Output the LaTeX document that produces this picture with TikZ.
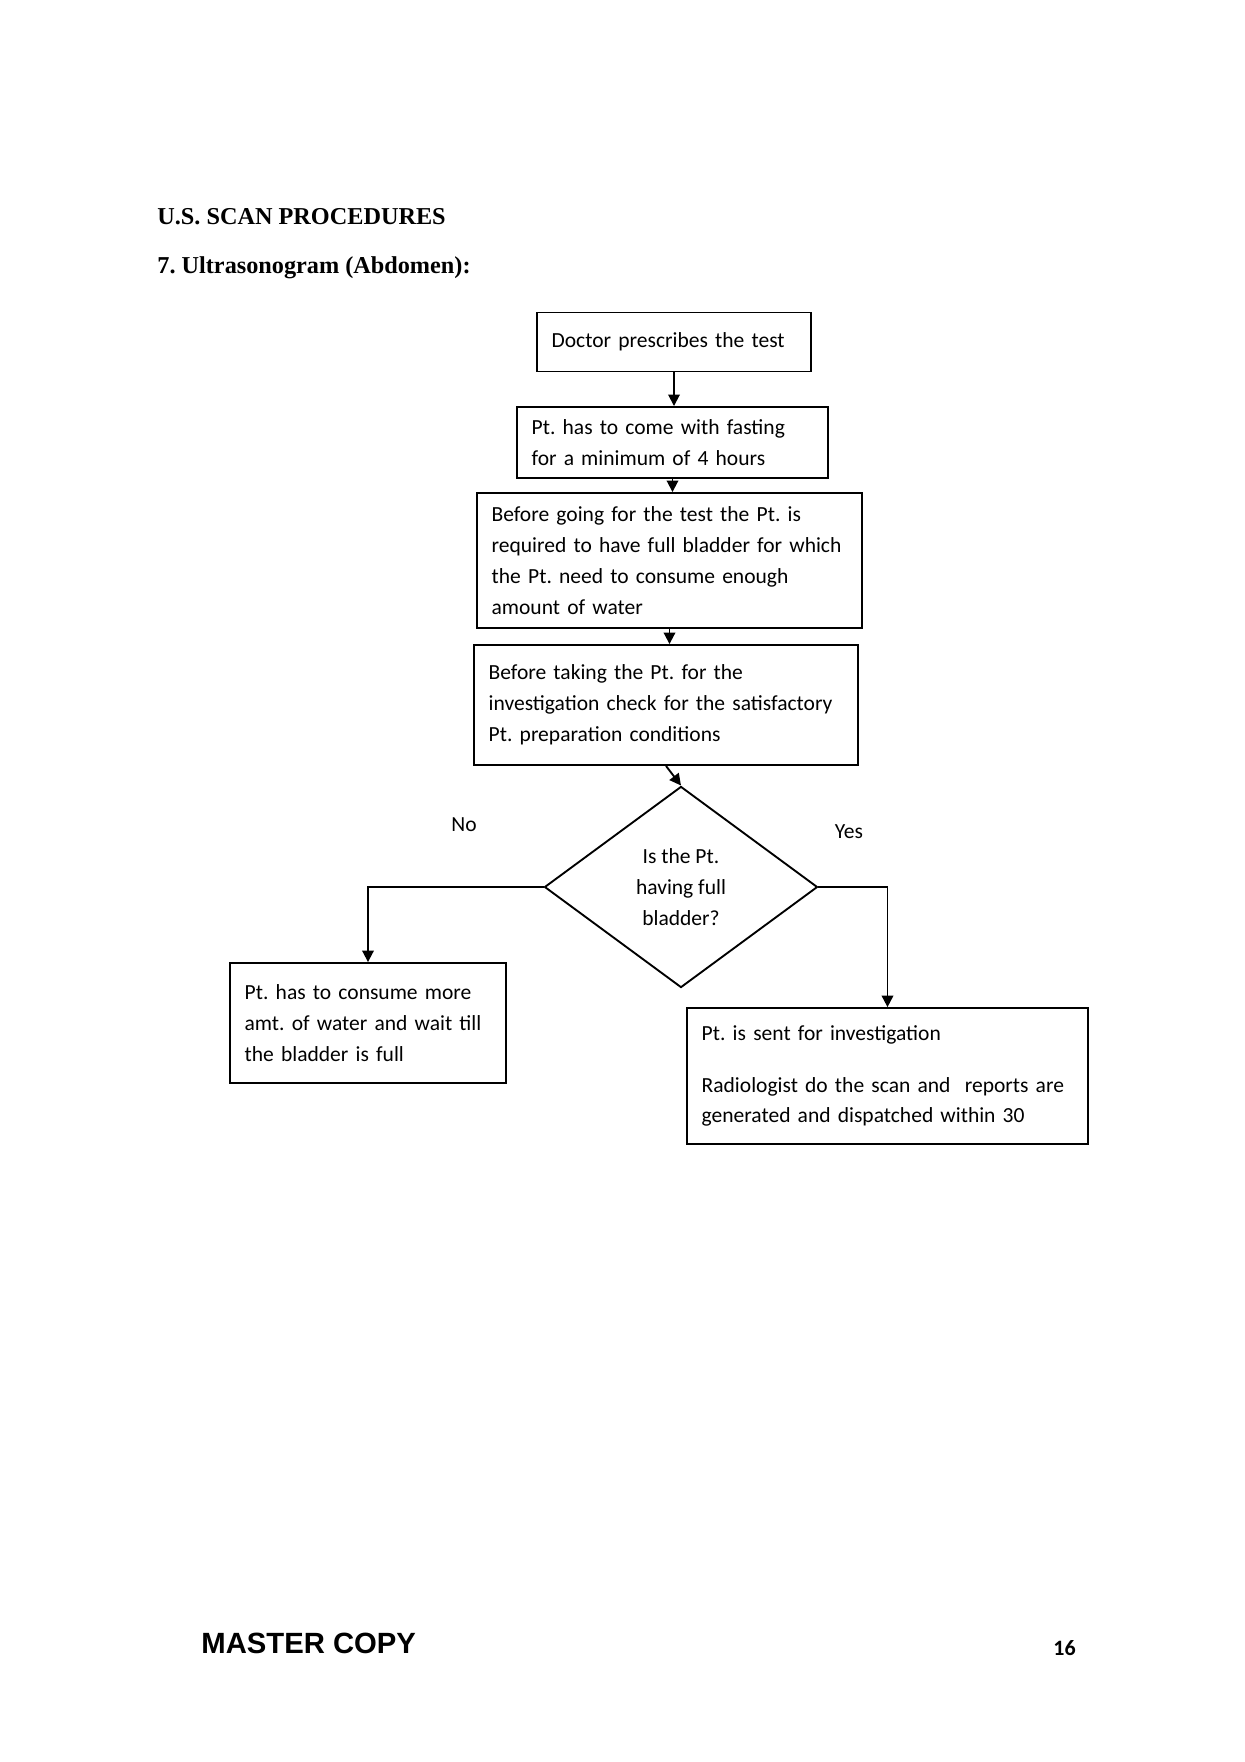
\documentclass[tikz,border=0pt]{standalone}
\usepackage{fontspec}
\usetikzlibrary{shapes.geometric,arrows.meta}
\newfontfamily\calibrifont{Carlito}
\newfontfamily\arialfont{Liberation Sans}
\newfontfamily\timesfont{Liberation Serif}
\frenchspacing
\tikzset{
	step box/.style={rectangle, draw=black, line width=0.9pt, align=left, inner xsep=7pt, inner ysep=2pt,
		font=\calibrifont\fontsize{10.3}{14.8}\selectfont},
	decision/.style={diamond, draw=black, line width=0.9pt, align=center, inner sep=0pt,
		minimum width=130.6pt, minimum height=96.2pt, font=\calibrifont\fontsize{10.3}{15}\selectfont},
	flow/.style={-{Triangle[length=5.5pt,width=5.5pt]}, line width=0.9pt},
	answer/.style={font=\calibrifont\fontsize{10.3}{14.8}\selectfont}
}
\begin{document}
\begin{tikzpicture}[x=0.4784pt, y=-0.4784pt]
	\useasboundingbox[fill=white] (0,0) rectangle (1245,1762);

	% page heading
	\node[anchor=base west, inner sep=0pt, font=\timesfont\bfseries\fontsize{11.6}{14}\selectfont](title) at (157,224){U.S. SCAN PROCEDURES};
	\node[anchor=base west, inner sep=0pt, font=\timesfont\bfseries\fontsize{11.6}{14}\selectfont](subtitle) at (157,273){7. Ultrasonogram (Abdomen):};

	% steps
	\node[step box, text width=117.1pt, minimum width=131.1pt, minimum height=28.2pt](prescribe) at (674,342){Doctor prescribes the test};
	\node[step box, text width=134.8pt, minimum width=148.8pt, minimum height=34pt](fasting) at (672.5,442.5){Pt. has to come with fasting\\for a minimum of 4 hours};
	\node[step box, text width=170.2pt, minimum width=184.2pt, minimum height=64.6pt](bladder) at (669.5,560.5){Before going for the test the Pt. is\\required to have full bladder for which\\the Pt. need to consume enough\\amount of water};
	\node[step box, text width=169.7pt, minimum width=183.7pt, minimum height=57.4pt](check) at (666,705){Before taking the Pt. for the\\investigation check for the satisfactory\\Pt. preparation conditions};

	% decision
	\node[decision](full) at (681,887){Is the Pt.\\having full\\bladder?};
	\node[answer](no) at (464,825){No};
	\node[answer](yes) at (849,832){Yes};

	% outcomes
	\node[step box, text width=118pt, minimum width=132pt, minimum height=57.4pt](drink) at (368,1023){Pt. has to consume more\\amt. of water and wait till\\the bladder is full};
	\node[step box, text width=177.8pt, minimum width=191.8pt, minimum height=65pt](sent) at (887.5,1076){Pt. is sent for investigation\\[10pt]Radiologist do the scan and\ \ reports are\\generated and dispatched within 30};

	% footer
	\node[anchor=base west, inner sep=0pt, font=\arialfont\bfseries\fontsize{14}{16}\selectfont](master) at (201,1653){MASTER COPY};
	\node[anchor=base west, inner sep=0pt, font=\calibrifont\bfseries\fontsize{10.5}{12}\selectfont](page) at (1053,1655){16};

	% connectors
	\draw[flow] (prescribe.south) -- (prescribe.south |- fasting.north);
	\draw[flow] (fasting.south) -- (fasting.south |- bladder.north);
	\draw[flow] (bladder.south) -- (bladder.south |- check.north);
	\draw[flow] (check.south) -- (full.north);
	\draw[flow] (full.west) -| (drink.north);
	\draw[flow] (full.east) -| (sent.north);
\end{tikzpicture}
\end{document}
